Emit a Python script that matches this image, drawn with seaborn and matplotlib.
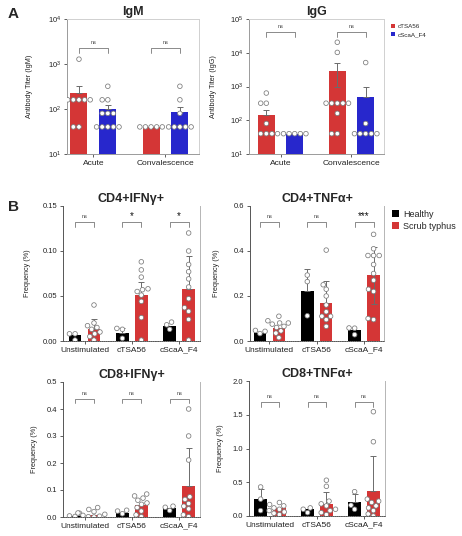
import numpy as np
import pandas as pd
import matplotlib
matplotlib.use("Agg")
import matplotlib.pyplot as plt
import seaborn as sns
import warnings
warnings.filterwarnings("ignore")

sns.set_theme(style="ticks")
plt.rcParams["font.family"] = ["Liberation Sans", "DejaVu Sans"]
plt.rcParams["mathtext.fontset"] = "custom"
plt.rcParams["mathtext.rm"] = "Liberation Sans"
plt.rcParams["mathtext.default"] = "regular"

# ---------------- Panel A data ----------------
groups_a = ["Acute", "Convalescence"]
hues_a = ["cTSA56", "cScaA_F4"]
# order: (Acute,cTSA56),(Acute,cScaA_F4),(Conv,cTSA56),(Conv,cScaA_F4)
igm_mean = [230, 100, 40, 85]
igm_lo = [230, 100, 40, 85]
igm_hi = [330, 125, 40, 110]
igm_pts = [
    [1280, 160, 160, 160, 160, 160, 40, 40],
    [320, 160, 160, 80, 80, 80, 40, 40, 40, 40, 40],
    [40, 40, 40, 40, 40],
    [320, 160, 80, 40, 40, 40, 40, 40],
]
igg_mean = [145, 40, 2900, 480]
igg_lo = [145, 40, 980, 480]
igg_hi = [205, 40, 5000, 1000]
igg_pts = [
    [640, 320, 320, 80, 40, 40, 40, 40],
    [40, 40, 40, 40, 40],
    [20480, 10240, 320, 320, 320, 320, 320, 160, 40, 40],
    [5120, 80, 40, 40, 40, 40, 40],
]

# ---------------- Panel B data ----------------
groups_b = ["Unstimulated", "cTSA56", "cScaA_F4"]
hues_b = ["Healthy", "Scrub typhus"]
# order: Unstim(H,S), cTSA56(H,S), cScaA_F4(H,S)
cd4ifn_mean = [0.0063, 0.013, 0.0093, 0.051, 0.0167, 0.058]
cd4ifn_lo = [0.0063, 0.013, 0.0093, 0.051, 0.0167, 0.058]
cd4ifn_hi = [0.0063, 0.024, 0.014, 0.066, 0.0167, 0.094]
cd4ifn_pts = [
    [0.008, 0.008, 0.001],
    [0.040, 0.020, 0.017, 0.015, 0.013, 0.010, 0.008, 0.005, 0.001],
    [0.014, 0.013, 0.003],
    [0.088, 0.079, 0.071, 0.058, 0.057, 0.055, 0.051, 0.044, 0.026, 0.001],
    [0.021, 0.018, 0.013],
    [0.120, 0.100, 0.085, 0.077, 0.069, 0.060, 0.047, 0.037, 0.033, 0.024, 0.001],
]
cd4tnf_mean = [0.037, 0.059, 0.222, 0.170, 0.049, 0.292]
cd4tnf_lo = [0.037, 0.059, 0.222, 0.170, 0.049, 0.163]
cd4tnf_hi = [0.037, 0.059, 0.319, 0.268, 0.049, 0.416]
cd4tnf_pts = [
    [0.047, 0.043, 0.033],
    [0.110, 0.090, 0.080, 0.080, 0.075, 0.065, 0.060, 0.045, 0.035, 0.015],
    [0.293, 0.264, 0.112],
    [0.404, 0.250, 0.230, 0.200, 0.160, 0.130, 0.110, 0.110, 0.095, 0.065],
    [0.058, 0.057, 0.028],
    [0.474, 0.410, 0.380, 0.380, 0.380, 0.340, 0.300, 0.270, 0.230, 0.220, 0.100, 0.095],
]
cd8ifn_mean = [0.003, 0.008, 0.016, 0.044, 0.032, 0.115]
cd8ifn_lo = [0.003, 0.008, 0.016, 0.044, 0.032, 0.115]
cd8ifn_hi = [0.003, 0.008, 0.016, 0.044, 0.032, 0.254]
cd8ifn_pts = [
    [0.014, 0.004, 0.002],
    [0.035, 0.028, 0.020, 0.015, 0.010, 0.006, 0.003, 0.001, 0.0],
    [0.025, 0.022, 0.012],
    [0.085, 0.078, 0.070, 0.062, 0.052, 0.047, 0.035, 0.022, 0.008, 0.001],
    [0.040, 0.036, 0.024],
    [0.400, 0.300, 0.211, 0.075, 0.065, 0.050, 0.040, 0.030, 0.008, 0.001],
]
cd8tnf_mean = [0.247, 0.114, 0.099, 0.178, 0.202, 0.366]
cd8tnf_lo = [0.247, 0.114, 0.099, 0.178, 0.202, 0.366]
cd8tnf_hi = [0.400, 0.114, 0.099, 0.350, 0.330, 0.889]
cd8tnf_pts = [
    [0.430, 0.250, 0.080],
    [0.200, 0.170, 0.150, 0.120, 0.100, 0.080, 0.060, 0.040, 0.020],
    [0.120, 0.100, 0.050],
    [0.530, 0.440, 0.220, 0.180, 0.150, 0.100, 0.080, 0.050, 0.020],
    [0.360, 0.160, 0.100],
    [1.545, 1.100, 0.250, 0.220, 0.200, 0.150, 0.120, 0.080, 0.030, 0.0],
]

sig_a = ["ns", "ns"]
sig_igg = ["ns", "ns"]
sig_cd4ifn = ["ns", "*", "*"]
sig_cd4tnf = ["ns", "ns", "***"]
sig_cd8ifn = ["ns", "ns", "ns"]
sig_cd8tnf = ["ns", "ns", "ns"]

RED = "#ee1c1c"
BLUE = "#0b0be8"
pal_a = {"cTSA56": RED, "cScaA_F4": BLUE}
pal_b = {"Healthy": "#000000", "Scrub typhus": RED}

W, H = 462, 536
fig = plt.figure(figsize=(W / 100, H / 100), dpi=100)


def ax_at(x0, x1, ytop, ybot):
    return fig.add_axes([x0 / W, 1 - ybot / H, (x1 - x0) / W, (ybot - ytop) / H])


def panel(ax, groups, hues, means, lo, hi, pts, pal, gap, sigs, title,
          ylabel, ylab_x, log=False, ylim=None, yticks=None, yticklabels=None,
          xlim=None, br_top=0.85, br_leg=0.81, legend=False, boxed=False):
    if log:
        ax.set_yscale("log")
    rows = []
    prow = []
    k = 0
    for g in groups:
        for h in hues:
            rows.append({"group": g, "hue": h, "mean": means[k]})
            for v in pts[k]:
                prow.append({"group": g, "hue": h, "value": v})
            k += 1
    df = pd.DataFrame(rows)
    dfp = pd.DataFrame(prow)
    sns.barplot(data=df, x="group", y="mean", hue="hue", order=groups,
                hue_order=hues, palette=pal, width=0.8, gap=gap,
                errorbar=None, legend=legend, ax=ax, edgecolor="none",
                linewidth=0)
    conts = list(ax.containers)
    # error bars
    centers = {}
    for hi_i, cont in enumerate(conts):
        for gi, bar in enumerate(cont):
            idx = gi * len(hues) + hi_i
            xc = bar.get_x() + bar.get_width() / 2
            centers[idx] = xc
            m = means[idx]
            if hi[idx] > m or lo[idx] < m:
                ax.errorbar(xc, m, yerr=[[m - lo[idx]], [hi[idx] - m]],
                            fmt="none", ecolor="#6b6b6b", elinewidth=0.7,
                            capsize=2.2, capthick=0.7, zorder=3)
    sns.swarmplot(data=dfp, x="group", y="value", hue="hue", order=groups,
                  hue_order=hues, palette={h: "white" for h in hues},
                  dodge=True, size=3.3, edgecolor="#7a7a7a", linewidth=0.55,
                  legend=False, ax=ax, zorder=4)
    if ylim is not None:
        ax.set_ylim(*ylim)
    if yticks is not None:
        ax.set_yticks(yticks)
    if yticklabels is not None:
        ax.set_yticklabels(yticklabels)
    ax.minorticks_off()
    if xlim is not None:
        ax.set_xlim(*xlim)
    # significance brackets
    tr = ax.get_xaxis_transform()
    for gi, s in enumerate(sigs):
        x1 = centers[gi * len(hues)]
        x2 = centers[gi * len(hues) + 1]
        ax.plot([x1, x1, x2, x2], [br_leg, br_top, br_top, br_leg],
                transform=tr, color="#777777", lw=0.6, clip_on=False)
        if s == "ns":
            ax.text((x1 + x2) / 2, br_top + 0.025, s, transform=tr,
                    ha="center", va="bottom", fontsize=4, color="#444444")
        else:
            ax.text((x1 + x2) / 2, br_top + 0.005, s, transform=tr,
                    ha="center", va="bottom", fontsize=7, color="#111111")
    ax.set_title(title, fontsize=9, fontweight="bold", pad=3)
    ax.set_xlabel("")
    ax.set_ylabel(ylabel, fontsize=5.2, color="#222222")
    ax.yaxis.set_label_coords(ylab_x, 0.5)
    ax.tick_params(axis="both", length=2.5, width=0.6, pad=1.5,
                   colors="#444444", labelcolor="#222222")
    ax.tick_params(axis="y", labelsize=5.5)
    ax.tick_params(axis="x", labelsize=6)
    for sp in ax.spines.values():
        sp.set_linewidth(0.7)
    if boxed:
        ax.spines["left"].set_color("#9a9a9a")
        ax.spines["bottom"].set_color("#9a9a9a")
        ax.spines["top"].set_color("#d0d0d0")
        ax.spines["right"].set_color("#d0d0d0")
        ax.spines["top"].set_visible(True)
        ax.spines["right"].set_visible(True)
    else:
        ax.spines["left"].set_color("#555555")
        ax.spines["bottom"].set_color("#555555")
        ax.spines["bottom"].set_linestyle((0, (1, 1.2)))
        ax.spines["top"].set_visible(False)
        ax.spines["right"].set_visible(True)
        ax.spines["right"].set_color("#b5b5b5")
    return ax


# Panel A
ax1 = ax_at(67, 199, 19, 154)
panel(ax1, groups_a, hues_a, igm_mean, igm_lo, igm_hi, igm_pts, pal_a, 0.41,
      sig_a, "IgM", "Antibody Titer (IgM)", -0.26, log=True,
      ylim=(10, 1e4), yticks=[10, 100, 1000, 10000],
      xlim=(-0.366, 1.465), br_top=0.785, br_leg=0.75, boxed=True)

ax2 = ax_at(249, 384, 19, 154)
panel(ax2, groups_a, hues_a, igg_mean, igg_lo, igg_hi, igg_pts, pal_a, 0.41,
      sig_igg, "IgG", "Antibody Titer (IgG)", -0.237, log=True,
      ylim=(10, 1e5), yticks=[10, 100, 1000, 10000, 100000],
      xlim=(-0.444, 1.458), br_top=0.904, br_leg=0.867, legend=True,
      boxed=True)
sns.move_legend(ax2, "upper left", bbox_to_anchor=(1.03, 0.985),
                frameon=False, title=None, fontsize=4.5, handlelength=0.7,
                handleheight=0.7, handletextpad=0.5, labelspacing=0.45,
                borderaxespad=0)

# Panel B
ax3 = ax_at(63, 200, 206, 341)
panel(ax3, groups_b, hues_b, cd4ifn_mean, cd4ifn_lo, cd4ifn_hi, cd4ifn_pts,
      pal_b, 0.34, sig_cd4ifn, "CD4+IFN\u03b3+", "Frequency (%)", -0.23,
      ylim=(0, 0.15), yticks=[0, 0.05, 0.10, 0.15],
      yticklabels=["0.00", "0.05", "0.10", "0.15"],
      xlim=(-0.455, 2.44), br_top=0.88, br_leg=0.845)

ax4 = ax_at(250, 384, 206, 341)
panel(ax4, groups_b, hues_b, cd4tnf_mean, cd4tnf_lo, cd4tnf_hi, cd4tnf_pts,
      pal_b, 0.34, sig_cd4tnf, "CD4+TNF\u03b1+", "Frequency (%)", -0.224,
      ylim=(0, 0.6), yticks=[0, 0.2, 0.4, 0.6],
      yticklabels=["0.0", "0.2", "0.4", "0.6"],
      xlim=(-0.41, 2.42), br_top=0.88, br_leg=0.845, legend=True)
sns.move_legend(ax4, "upper left", bbox_to_anchor=(1.03, 1.0),
                frameon=False, title=None, fontsize=6.5, handlelength=0.8,
                handleheight=0.8, handletextpad=0.5, labelspacing=0.35,
                borderaxespad=0)

ax5 = ax_at(63, 200, 382, 517)
panel(ax5, groups_b, hues_b, cd8ifn_mean, cd8ifn_lo, cd8ifn_hi, cd8ifn_pts,
      pal_b, 0.34, sig_cd8ifn, "CD8+IFN\u03b3+", "Frequency (%)", -0.18,
      ylim=(0, 0.5), yticks=[0, 0.1, 0.2, 0.3, 0.4, 0.5],
      yticklabels=["0.0", "0.1", "0.2", "0.3", "0.4", "0.5"],
      xlim=(-0.455, 2.44), br_top=0.874, br_leg=0.845)

ax6 = ax_at(249, 385, 381, 516)
panel(ax6, groups_b, hues_b, cd8tnf_mean, cd8tnf_lo, cd8tnf_hi, cd8tnf_pts,
      pal_b, 0.34, sig_cd8tnf, "CD8+TNF\u03b1+", "Frequency (%)", -0.186,
      ylim=(0, 2.0), yticks=[0, 0.5, 1.0, 1.5, 2.0],
      yticklabels=["0.0", "0.5", "1.0", "1.5", "2.0"],
      xlim=(-0.447, 2.447), br_top=0.844, br_leg=0.807)

fig.text(8 / W, 1 - 14 / H, "A", fontsize=11, fontweight="bold", va="center")
fig.text(8 / W, 1 - 207 / H, "B", fontsize=11, fontweight="bold", va="center")

fig.savefig("out.png", dpi=100)
